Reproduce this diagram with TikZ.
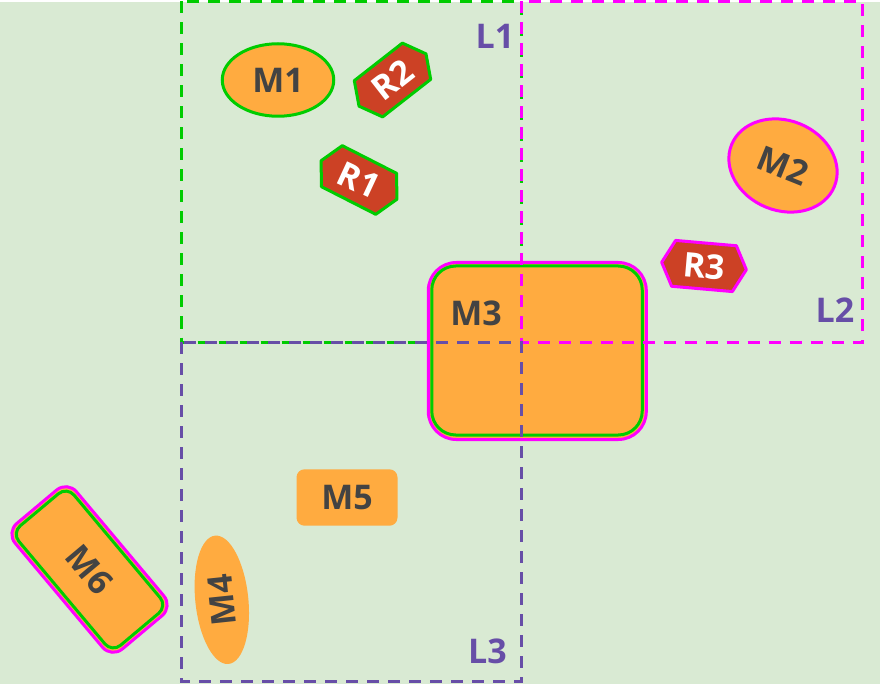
\documentclass[tikz,border=0pt]{standalone}
\usepackage{fontspec}
\setmainfont{Open Sans}
\usetikzlibrary{shapes.geometric}
\definecolor{bgc}{HTML}{D9EAD3}
\definecolor{orng}{HTML}{FFAB40}
\definecolor{redc}{HTML}{CC4125}
\definecolor{grn}{HTML}{00CC00}
\definecolor{mag}{HTML}{FF00FF}
\definecolor{purp}{HTML}{674EA7}
\definecolor{txtc}{HTML}{434343}
\begin{document}
\begin{tikzpicture}[x=1pt,y=-1pt,
  lab/.style={font=\fontsize{34}{40}\selectfont\bfseries, text=txtc, inner sep=0pt},
  rlab/.style={lab, text=white},
  llab/.style={lab, text=purp},
  dbox/.style={line width=2.6pt, dash pattern=on 12pt off 9pt},
  bord/.style={line width=3pt},
  hexR/.style={fill=redc, line width=3pt, line join=round},
]
\useasboundingbox (0,0) rectangle (880,684);
\fill[white] (0,0) rectangle (880,684);
\fill[bgc] (0,2) rectangle (880,684);
% L1 region (under shapes)
\draw[dbox, grn] (181.5,1.5) rectangle (521.3,342.3);
% M1
\node[ellipse, draw=grn, bord, fill=orng, minimum width=111.5pt, minimum height=72.5pt, lab] (M1) at (278,80) {M1};
% R2
\draw[hexR, draw=grn, shift={(392.5,80)}, rotate=38]
  (-42.5,0) -- (-30.5,-23) -- (30.5,-23) -- (42.5,0) -- (30.5,23) -- (-30.5,23) -- cycle;
\node[rlab, rotate=38] (R2) at (392.5,80) {R2};
% R1
\draw[hexR, draw=grn, shift={(359,180)}, rotate=-27]
  (-42.5,0) -- (-30.5,-23) -- (30.5,-23) -- (42.5,0) -- (30.5,23) -- (-30.5,23) -- cycle;
\node[rlab, rotate=-25] (R1) at (359,180) {R1};
% M2
\node[ellipse, draw=mag, bord, fill=orng, minimum width=111pt, minimum height=90pt, rotate=-22, lab] (M2) at (783,165.5) {M2};
% R3
\draw[hexR, draw=mag, shift={(704,266)}, rotate=-5]
  (-42.5,0) -- (-30.5,-23) -- (30.5,-23) -- (42.5,0) -- (30.5,23) -- (-30.5,23) -- cycle;
\node[rlab, rotate=-5] (R3) at (704,266) {R3};
% M3
\node[rectangle, rounded corners=28pt, draw=mag, bord, fill=orng, minimum width=218pt, minimum height=177pt, inner sep=0pt] (M3) at (537.3,351) {};
\node[rectangle, rounded corners=24pt, draw=grn, bord, minimum width=210.5pt, minimum height=169pt, inner sep=0pt] (M3in) at (537,350.5) {};
\node[lab] (M3t) at (476,313) {M3};
% M5
\node[rectangle, rounded corners=8pt, fill=orng, minimum width=101pt, minimum height=56.4pt, lab] (M5) at (347,497.5) {M5};
% M4
\node[ellipse, fill=orng, minimum width=129pt, minimum height=53pt, rotate=96, lab] (M4) at (221.8,599.8) {M4};
% M6
\node[rectangle, rounded corners=14pt, draw=mag, bord, fill=orng, minimum width=164pt, minimum height=80pt, inner sep=0pt, rotate=-50] (M6) at (89.5,569.5) {};
\node[rectangle, rounded corners=11pt, draw=grn, bord, minimum width=156pt, minimum height=72pt, rotate=-50, lab] (M6in) at (89.5,569.5) {M6};
% L2 and L3 regions (over shapes)
\draw[dbox, mag] (521.3,1.5) rectangle (862.3,342.3);
\draw[dbox, purp] (181.5,342.3) rectangle (521.3,681.7);
% region labels
\node[llab] (L1) at (495,36.5) {L1};
\node[llab] (L2) at (835,310.5) {L2};
\node[llab] (L3) at (487.5,651) {L3};
\end{tikzpicture}
\end{document}
